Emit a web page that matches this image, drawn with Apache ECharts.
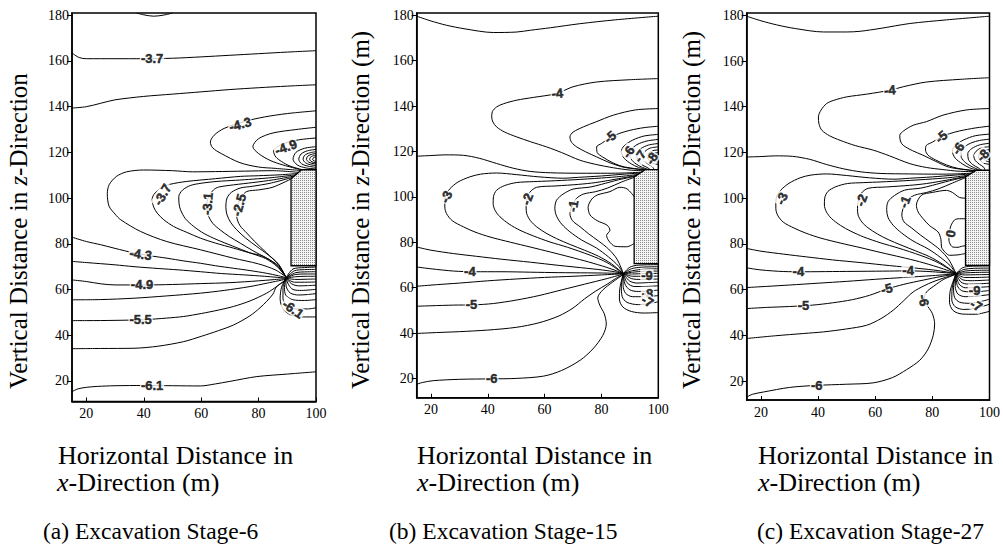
<!DOCTYPE html>
<html><head><meta charset="utf-8">
<script src="https://cdn.jsdelivr.net/npm/echarts@6/dist/echarts.min.js"></script>
<style>html,body{margin:0;padding:0;background:#fff}#c{width:1003px;height:556px}</style>
</head><body><div id="c"></div>
<script>
const xTicks=[20,40,60,80,100];
const yTicks=[20,40,60,80,100,120,140,160,180];

// ---------- Panel (a): Excavation Stage-6 ----------
const aBox=[[91.3,70.4],[91.3,108.5],[95,112.4],[100,112.4],[100,70.4]];
const aLines=[
 [[37.5,181],[40,180.2],[43.5,179.6],[47,180.1],[50,181]],
 [[15,163.5],[17.5,161.5],[20,161],[30,161],[40,161],[50,161.2],[60,161.8],[70,162.5],[80,163.2],[90,163.9],[100,164.5]],
 [[15,139.4],[20,140],[25,141.5],[30,143],[40,144.5],[50,145.5],[60,146.5],[70,147.5],[80,148.3],[90,149],[100,149.6]],
 [[100,138.2],[90,137],[82,135.5],[75,133.5],[68,130.5],[64.5,127.5],[63.2,124.5],[64,122],[67,119.5],[73.5,115.5],[80,113.6],[86,113],[95.5,112]],
 [[100,131],[93,130],[85,128.5],[80,126],[78,122.5],[80,119.5],[84,116.5],[88.5,114.5],[96,112]],
 [[100,126.3],[94,125.5],[88,123.5],[85.2,120.5],[86,118],[88,116],[91,114],[96.5,112]],
 [[100,122.5],[96,121.8],[93,120],[92,117],[93.5,114.5],[96.5,113.2],[100,112.8]],
 [[100,121.3],[97,120.7],[94.8,119.3],[94,117],[95,115],[97.5,113.9],[100,113.5]],
 [[100,120.3],[97.8,119.8],[96,118.7],[95.5,117],[96.3,115.5],[98,114.6],[100,114.3]],
 [[100,119.5],[98.3,119.1],[97,118.2],[96.7,117],[97.3,115.9],[98.6,115.2],[100,115]],
 [[100,118.7],[98.8,118.4],[98,117.8],[97.8,117],[98.2,116.2],[99,115.7],[100,115.5]],
 [[100,118],[99.3,117.8],[98.8,117],[99.3,116.3],[100,116.1]],
 [[94.5,111.2],[85,112],[75,111.8],[65,111.6],[57,111.5],[50,112],[40,112.3],[34,111.5],[30.5,109.5],[28,106],[27.3,102],[27.9,96.5],[30,93],[32,90.5],[38.9,85.4],[48,81],[59.7,77.4],[71.3,73.7],[80,71.2],[86,68.5],[89.5,65.5]],
 [[94,110.8],[87.5,110.2],[80,109.8],[73.6,109.5],[65,108.5],[55,107.3],[49,106],[45.8,104.4],[43.5,101.5],[42.9,99.3],[43.5,96],[44.7,93.4],[47,90.5],[50.4,87.6],[55,85],[59.7,82.5],[65,80.3],[71.3,78.1],[77,76],[81.7,74.5],[86,71],[89.5,65.5]],
 [[93.5,110.3],[85,109],[78,108.3],[72,107.8],[65.5,107.3],[60,106.5],[56.2,105.5],[53.5,103.5],[52.2,100.7],[52.3,97.5],[52.8,94.9],[54.5,91],[57.4,87.6],[61,84.5],[65.5,81.8],[71,79],[77.1,76],[82.5,73.5],[86.5,70],[89.5,65.5]],
 [[93,109.8],[85.2,108],[78,106.8],[71.3,105.8],[66,104.8],[64.3,103.6],[62.8,101],[62,97.8],[62,95],[62.6,92],[64,89],[66.6,86.1],[69.8,83.2],[73.6,80.3],[78,77],[82.8,73.7],[86.8,70.5],[89.5,65.5]],
 [[92.5,109.3],[84,106.5],[78,105.2],[73.6,104.4],[70.5,102.5],[69,100],[68.6,96],[69,92.7],[70.3,89.3],[72.4,86.1],[75.5,82.5],[79.4,78.8],[83.5,75],[87,71],[89.5,65.5]],
 [[92,108.8],[85,104.8],[80,103.6],[75.9,102.9],[74,100.5],[73,97.8],[72.5,95],[72.4,92],[73.5,88],[75.9,84.7],[78.5,81.2],[82.8,76],[86.5,71.5],[89.5,65.5]],
 [[15,82.9],[20,81],[25,79.6],[30,78],[36.6,76],[42,74.8],[48.1,73.7],[54,72.5],[59.7,71.5],[65,70.4],[71.3,69.3],[77,68.3],[82.8,67.1],[87,66],[89.5,65.2]],
 [[15,72.3],[20,71.8],[30,70.8],[36.6,70],[45,69.2],[52,68.6],[59.7,67.8],[67,67],[75,66.4],[82,65.8],[89.5,65]],
 [[15,64.2],[20,63.5],[25,62.5],[30,62],[40,62],[50,62.2],[60,62.6],[70,63],[80,63.8],[85,64.3],[89.5,64.8]],
 [[15,55.5],[25,55.6],[36.6,56.2],[48,57.2],[59.7,58.4],[68,59.6],[77,61.3],[83,62.8],[89.5,64.5]],
 [[15,46.4],[20,46.4],[30,46.5],[40,46.8],[48,47.5],[53.9,48.2],[60,49.5],[66,51],[71.3,52.6],[77,55],[82.8,58.4],[86.5,61.5],[89.5,64.3]],
 [[15,34.1],[25,34.2],[36.6,34.3],[45,35.2],[53.9,37.2],[60,39.5],[66,42],[71.3,44.5],[77,48.5],[80.5,52],[82.8,54.8],[85,58],[86.3,61.3],[89.5,64]],
 [[15,15.3],[17,16.5],[20,17.2],[23.8,17.6],[30,17.9],[40,18],[50,17.9],[59.7,17.8],[65,18.7],[70,19.8],[79.4,21.9],[90,23],[100,24]],
 [[89.5,65],[92,69],[96,69.6],[100,69.8]],
 [[89.5,65],[92.5,68.2],[96,68.7],[100,68.8]],
 [[89.5,65],[93,67.4],[96,67.7],[100,67.8]],
 [[89.5,65],[93,66.6],[96.5,66.8],[100,66.8]],
 [[89.5,65],[93,65.6],[96.5,65.8],[100,65.8]],
 [[89.5,65],[93,64.4],[96.5,64.5],[100,64.6]],
 [[89.5,65],[92.5,63.2],[96,63.2],[100,63.3]],
 [[89.5,65],[91.5,62.5],[94,61.6],[97,61.7],[100,61.9]],
 [[89.5,65],[90.5,62],[92,60],[95,59.6],[100,60.1]],
 [[89.5,65],[89.6,61.5],[91,58.5],[94,57.6],[97,57.8],[100,58.2]],
 [[89.5,65],[89,61],[89.5,57.5],[92,55.5],[96,55.2],[100,55.6]],
 [[89.5,65],[88.5,61],[88.5,56],[90,53],[93,51.5],[97,51.5],[100,52]],
 [[89.5,65],[88,61],[87.5,56],[88.5,51.5],[91,49],[95,48],[100,48]]
];
const aLabels=[
 [42.9,161,'-3.7',0],[73.6,132.3,'-4.3',15],[89.5,122.3,'-4.9',20],
 [46.5,101.5,'-3.7',60],[62.2,97.5,'-3.1',85],[73.2,97,'-2.5',75],
 [38.9,75.4,'-4.3',-8],[39.4,62,'-4.9',0],[38.9,46.7,'-5.5',0],
 [92,51.5,'-6.1',-35],[42.9,17.9,'-6.1',0]
];

// ---------- Panel (b): Excavation Stage-15 ----------
const bBox=[[91.5,70.6],[91.5,108.8],[95.4,112],[100,112],[100,70.6]];
const bLines=[
 [[15,179.6],[20,177.5],[25.5,175.6],[32,174],[42,172.4],[50,172.6],[55,173.4],[62,174.5],[72.5,176.3],[85,178],[100,179.6]],
 [[100,152.1],[90,151.6],[78.3,150.6],[70,148.5],[64.2,145.5],[56,143.8],[50.2,142.6],[45.5,141],[43.1,139.6],[41.6,137.5],[41.4,135.2],[41.8,133],[43.1,130.8],[46,128.5],[50.2,126.4],[55,124.3],[60.7,122],[66,119.5],[72.5,116.1],[78,114.3],[84.2,112.8],[90,111.8],[95,111.5]],
 [[100,138.9],[92,138.3],[84.2,136],[78,133],[73.6,130.8],[70,128.5],[68.9,126.4],[69.5,124],[71.3,122],[74.5,119.8],[78.3,117.6],[83,115],[88,113],[95.5,111.8]],
 [[100,131.1],[95,130.5],[90,129.3],[86,127.8],[83,126],[80,123.5],[78.3,122],[78.5,119.5],[80.5,117.5],[84,115],[88,113.2],[96,111.8]],
 [[100,127.5],[95,126.8],[91,125],[88,122.5],[87,120],[88,117],[90.5,114.5],[93,113],[96.5,111.8]],
 [[100,125.3],[96,124.6],[92.5,123],[90.3,120.5],[90,118],[91.2,115.5],[93.5,113.5],[97,111.8]],
 [[100,123.5],[96.5,122.8],[93.8,121.2],[92.4,119],[92.6,116.5],[94,114.3],[96,113],[97.5,111.8]],
 [[100,122],[97.2,121.5],[95.3,120],[94.5,118],[95,116],[96.5,114.3],[98,113.2],[98.5,111.8]],
 [[100,120.7],[98,120.3],[96.6,119.2],[96.2,117.5],[96.8,116],[98,114.8],[100,114.3]],
 [[100,119.5],[98.7,119.2],[97.8,118.3],[97.7,117.2],[98.2,116.3],[99.2,115.6],[100,115.4]],
 [[100,118.5],[99.3,118.3],[98.9,117.6],[99.1,116.8],[100,116.4]],
 [[15,117.9],[20,118.2],[25,118.5],[31.4,118.3],[37,117],[43.1,114.7],[49,112.6],[54.9,111.2],[62,110.6],[72.5,110.4],[82,110.4],[88,110.5],[94.5,110.9]],
 [[94,110.5],[88,110],[80,109.2],[72,108.6],[66.6,108.2],[58,108.8],[50,109.8],[43.1,110.5],[37.5,110],[33.7,108.8],[29.5,106.5],[26.7,103.6],[25.3,101],[24.9,98.5],[24.9,95.5],[25.5,92.6],[27.5,89.5],[31.4,86.8],[35.5,84.5],[40.8,82.3],[48,80],[54.9,77.9],[62,75.7],[68.9,73.5],[75.5,71.3],[81.9,68.9],[85.5,67.3],[87.7,66.2]],
 [[93.5,110],[87,109],[80,108.3],[70,107.5],[62,107],[56,106.7],[50.2,106.3],[46,105],[43.1,102.9],[42,100],[41.9,97],[42.6,94],[44.3,91.2],[47.5,88],[51.3,85.3],[56,82.8],[61.9,80.1],[68,77.8],[76,74.3],[82,71],[87.7,66.2]],
 [[93,109.6],[86,108],[78,106.3],[72,105.5],[64,104.8],[57.2,104.2],[54.8,102],[53.7,98.5],[53.5,95.5],[53.7,92.6],[55,89.5],[57.2,86.8],[60.5,84],[64.2,81.6],[69,79],[74,76.5],[79,73.8],[83.5,70.5],[87.7,66.2]],
 [[92.5,109.2],[86,107.5],[80,105.5],[76,104.3],[70,103.4],[66.5,101.2],[64.2,98.5],[63.6,95],[64.2,91.5],[66,88],[68.9,84.6],[73,81],[78.3,77.4],[82.5,73.5],[86,69.5],[87.7,66.2]],
 [[92,108.8],[87,106.5],[82,103.8],[78,102.3],[73.6,101.2],[71.2,99.3],[70.1,97],[69.3,94.8],[68.9,92.6],[69.8,89.5],[72.5,86.8],[75.5,83.7],[79,80.5],[82.5,77],[85.5,72.5],[87.7,66.2]],
 [[91.6,100],[89,103.5],[86.5,104.2],[83,102.3],[78.5,100.8],[76.6,99],[75.3,95.4],[76,92],[78.5,89.5],[82,87.5],[83,85.3],[81.8,83],[82.6,80.6],[84.8,78.2],[88.9,78],[91.6,79.5]],
 [[15,77.9],[20,76.5],[28,75],[36,73.8],[45,72.5],[55,71.2],[65,69.8],[75,68.5],[82,67.5],[87.7,66.3]],
 [[15,69.1],[20,68.3],[28,67.3],[35,67],[45,67],[55,66.8],[65,66.6],[75,66.5],[82,66.4],[87.7,66.2]],
 [[15,60.6],[22,61.3],[30,62],[40,63],[50,63.8],[60,64.5],[70,65],[80,65.6],[87.7,66.1]],
 [[15,51.8],[20,52],[28,52.3],[35,52.4],[42,53],[50,54.5],[58,56.5],[66,59],[74,61.5],[82,64],[87.7,66]],
 [[15,39.8],[22,40.2],[30,40.6],[40,41.3],[50,42.5],[58,44.5],[65,47.5],[70,51],[74,55],[78,58.5],[82,61.5],[85,64],[87.7,65.9]],
 [[15,17.4],[17,18.2],[20.8,19],[30,19.6],[41.4,19.8],[50,20],[59.6,21],[66,23.5],[72.5,28],[77,33],[80.5,39],[81.7,44],[81,48.5],[79.5,52],[78.7,55.5],[80.5,59],[84,62.5],[87.7,65.8]],
 [[87.7,66.2],[90,69],[93,69.9],[100,70.1]],
 [[87.7,66.2],[90.5,68.3],[94,69],[100,69.2]],
 [[87.7,66.2],[91,67.5],[95,68.1],[100,68.3]],
 [[87.7,66.2],[91,66.8],[95,67.2],[100,67.3]],
 [[87.7,66.2],[91,66],[95,66.2],[100,66.3]],
 [[87.7,66.2],[91,65],[95,65],[100,65.1]],
 [[87.7,66.2],[90.5,64],[94,63.6],[100,63.8]],
 [[87.7,66.2],[89.8,63],[92.5,62],[96,62.2],[100,62.4]],
 [[87.7,66.2],[89,62.2],[91.5,60.5],[95,60.5],[100,60.8]],
 [[87.7,66.2],[88.3,61.5],[90,59],[93,58.3],[97,58.6],[100,58.9]],
 [[87.7,66.2],[87.6,61],[88.5,57.5],[91,56],[95,56],[100,56.5]],
 [[87.7,66.2],[87,60.5],[87.3,56],[89,53.5],[93,52.5],[97,53],[100,53.8]],
 [[87.7,66.2],[86.5,60],[86.3,55],[87.5,51.5],[90.5,49.5],[95,48.8],[100,49]]
];
const bLabels=[
 [64.5,145.6,'-4',5],[83,126.3,'-5',40],[89.5,119.8,'-6',55],[93.6,117.9,'-7',55],[97.7,116.9,'-8',55],
 [25.4,100,'-3',65],[53.9,99,'-2',70],[70,96,'-1',80],
 [33.7,67,'-4',0],[34.3,52.5,'-5',0],[41.4,19.8,'-6',0],
 [96,65.3,'-9',0],[96.2,57.6,'-8',0],[96.2,54,'-7',-30]
];

// ---------- Panel (c): Excavation Stage-27 ----------
const cBox=[[91.6,70.6],[91.6,109.3],[95.4,112.2],[100,112.2],[100,70.6]];
const cLines=[
 [[15,179.6],[20,177.6],[25.5,175.8],[32,174.2],[41.9,172.7],[50,172.7],[54.7,173],[62,174.3],[72.1,176.4],[85,178],[100,179.6]],
 [[100,152.7],[90,152],[77.9,150.8],[70,148.8],[65.1,147.2],[57,145.5],[50,144.3],[45.5,142.8],[43,141.4],[41,138.5],[40.1,135.5],[40.3,132.5],[41.3,129.7],[44,127.3],[47.7,125.3],[53,123],[59.3,121],[65,118.5],[72.1,115.1],[78,113.4],[83.7,112.5],[89,111.8],[95,111.6]],
 [[100,139.2],[92,138.6],[83.7,136.3],[78,133.5],[73.3,131.9],[70,129.5],[68.6,127.5],[68.8,125],[69.8,123.1],[73,120.8],[76.7,118.8],[81,116.2],[86,113.5],[95.5,111.9]],
 [[100,131.5],[95,130.7],[89.5,129.4],[86,128.2],[83.1,126.8],[80,124.5],[77.9,123.1],[77.6,121],[78.5,118.8],[81,116.8],[85,114.5],[89,113],[96,111.9]],
 [[100,128],[95,127.3],[91,125.5],[88,123],[87,120.5],[88,117.5],[90.5,115],[93,113.3],[96.5,112]],
 [[100,125.8],[96,125.1],[92.5,123.5],[90.3,121],[90,118.5],[91.2,116],[93.5,114],[97,112]],
 [[100,124],[96.5,123.3],[93.8,121.7],[92.4,119.5],[92.6,117],[94,114.8],[96,113.3],[97.5,112]],
 [[100,122.5],[97.2,122],[95.3,120.5],[94.5,118.5],[95,116.5],[96.5,114.8],[98,113.5],[98.5,112]],
 [[100,121.2],[98,120.8],[96.6,119.7],[96.2,118],[96.8,116.5],[98,115.3],[100,114.8]],
 [[100,120],[98.7,119.7],[97.8,118.8],[97.7,117.7],[98.2,116.8],[99.2,116.1],[100,115.9]],
 [[100,119],[99.3,118.8],[98.9,118.1],[99.1,117.3],[100,116.9]],
 [[15,118],[20,118.2],[25,118.5],[31,118.3],[37,117],[43,114.7],[49,112.8],[55,111.5],[62,110.8],[72,110.6],[82,110.5],[88,110.6],[94.5,111]],
 [[94,110.6],[88,110.1],[80,109.3],[72,108.7],[66.6,108.3],[58,108.9],[50,109.9],[43,110.6],[37.5,110.1],[33.7,108.9],[29.8,106.5],[27,103.6],[25.6,101],[25.2,98.5],[25.2,95.5],[25.8,92.6],[27.8,89.5],[31.6,86.9],[35.7,84.7],[41,82.5],[48,80.3],[55,78.3],[62,76.2],[69,74.2],[75.5,72.2],[82,69.8],[85.8,68.2],[88.3,67]],
 [[93.5,110.2],[87,109.1],[80,108.4],[70,107.6],[62,107.1],[56,106.8],[50.3,106.4],[46.2,105],[43.4,102.9],[42.3,100],[42.2,97],[42.9,94],[44.6,91.2],[47.8,88.1],[51.5,85.5],[56,83],[62,80.4],[68,78.2],[76,74.9],[82,71.8],[88.3,67]],
 [[93,109.8],[86,108.1],[78,106.4],[72,105.6],[64,104.9],[57.5,104.3],[55,102],[54,98.5],[53.8,95.5],[54,92.6],[55.3,89.6],[57.5,87],[60.8,84.3],[64.5,81.9],[69,79.5],[74,77],[79,74.4],[83.5,71.2],[88.3,67]],
 [[92.5,109.5],[86,107.6],[80,105.6],[76,104.4],[70.3,103.5],[66.8,101.2],[64.5,98.5],[64,95],[64.5,91.5],[66.3,88.1],[69.2,84.8],[73.2,81.3],[78.5,77.8],[82.7,74.2],[86.2,70.5],[88.3,67]],
 [[92,109.2],[87,106.6],[82,104],[78,102.5],[73.8,101.3],[71.4,99.4],[70.3,97.2],[69.6,94.9],[69.3,92.6],[70.1,89.6],[72.8,86.9],[75.8,83.9],[79.2,80.8],[82.7,77.4],[85.8,73],[88.3,67]],
 [[91.6,100],[89.5,100.3],[87,102.5],[84.9,103.4],[80,102.5],[76.2,101.3],[74.4,96.9],[75,94],[76.7,91.1],[79,88],[82,85.2],[83,82],[83.2,78.6],[84.5,76.3],[86,75],[89,75.2],[91.6,75.8]],
 [[91.6,91],[89.5,91],[87.8,90.5],[86.5,88],[86.1,85.9],[85.8,83],[85.8,81.6],[86.4,79.5],[87.2,78.6],[89,78.5],[90.1,78.9],[91.6,79.2]],
 [[15,78],[20,76.8],[28,75.5],[36,74.3],[45,73],[55,71.8],[65,70.5],[75,69.3],[82,68.3],[88.3,67]],
 [[15,69.5],[20,68.6],[28,67.9],[35,67.8],[45,67.9],[55,68],[65,68.1],[72,68.2],[80,67.8],[88.3,67]],
 [[15,60.9],[22,61.4],[30,62],[40,62.8],[50,63.6],[60,64.5],[70,65.3],[80,66.1],[88.3,66.9]],
 [[15,51.7],[22,52.2],[30,52.6],[38,53.2],[45,54.2],[52,55.6],[58,57.5],[64,60.2],[70,62.3],[77,64.2],[83,65.7],[88.3,66.8]],
 [[15,38.6],[25,39.8],[35,40.8],[41.9,41.5],[50,42.8],[57,44.4],[62,47.3],[66.3,51],[70,55.2],[73.3,59],[77,61.6],[80.2,63.4],[84.5,65.3],[88.3,66.7]],
 [[15,13],[17,14.2],[20.9,15.2],[30,17.2],[39.5,18.1],[50,18.6],[59.3,19.2],[66,21.5],[71,25],[75.6,29.1],[78.5,34],[80.3,40],[80.8,45],[80,49.5],[78.5,52.5],[77,55.5],[78,59],[80.5,61.5],[84,64.5],[88.3,66.7]],
 [[88.3,67],[90.5,69.5],[93.5,70.2],[100,70.3]],
 [[88.3,67],[91,68.8],[94.5,69.3],[100,69.4]],
 [[88.3,67],[91.5,68.1],[95,68.4],[100,68.5]],
 [[88.3,67],[91.5,67.3],[95,67.5],[100,67.6]],
 [[88.3,67],[91.5,66.4],[95,66.5],[100,66.6]],
 [[88.3,67],[91.3,65.3],[95,65.3],[100,65.5]],
 [[88.3,67],[90.8,64.2],[94,63.9],[100,64.2]],
 [[88.3,67],[90,63.3],[92.5,62.4],[96,62.5],[100,62.8]],
 [[88.3,67],[89.3,62.5],[91.5,60.8],[95,60.9],[100,61.3]],
 [[88.3,67],[88.7,61.8],[90.3,59.5],[93.5,59],[97,59.2],[100,59.6]],
 [[88.3,67],[88,61.3],[89,58],[91.5,56.9],[95,57.1],[100,57.8]],
 [[88.3,67],[87.4,60.8],[87.8,56.5],[89.5,54.5],[93,54],[97,54.8],[100,55.8]],
 [[88.3,67],[86.9,60.3],[86.8,55.5],[88,52.5],[91,51.3],[95,51.8],[100,53.6]],
 [[88.3,67],[86.3,59.8],[86,54.5],[87.3,50.8],[90.5,49.3],[95,49.2],[100,50.5]]
];
const cLabels=[
 [65.1,147.2,'-4',5],[83.1,126.8,'-5',40],[89,121.7,'-6',55],[97.7,118.8,'-8',45],
 [27.3,99.8,'-3',65],[55.2,99.1,'-2',70],[70.3,98.4,'-1',70],[86.4,84.5,'0',80],
 [33.1,67.8,'-4',0],[71.5,68.2,'-4',0],[34.9,53,'-5',0],[64,60.4,'-5',15],
 [77,55.3,'-6',-80],[94.8,59.7,'-9',0],[95.4,53.1,'-7',-30],[39.5,18.1,'-6',0]
];

// ---------- Texts ----------
const yTitles=['Vertical Distance in {i|z}-Direction','Vertical Distance in {i|z}-Direction (m)','Vertical Distance in {i|z}-Direction (m)'];
const xTitle1='Horizontal Distance in';
const xTitle2='{i|x}-Direction (m)';
const captions=['(a) Excavation Stage-6','(b) Excavation Stage-15','(c) Excavation Stage-27'];

// ---------- Build ----------
const pc=document.createElement('canvas');pc.width=2;pc.height=2;
const g=pc.getContext('2d');g.fillStyle='#f4f4f4';g.fillRect(0,0,2,2);g.fillStyle='#8c8c8c';g.fillRect(0,0,1,1);
const pattern={image:pc,repeat:'repeat'};

const grids=[
 {left:72,top:13,width:244,height:388.5},
 {left:416.7,top:13,width:241.6,height:384.7},
 {left:746.7,top:13,width:243.3,height:387}
];
const yMins=[11,11.5,11.7];
const serif='Liberation Serif';
const sans='Liberation Sans';

function panelSeries(idx,lines,labels,box){
 const s=[];
 lines.forEach(l=>s.push({type:'line',xAxisIndex:idx,yAxisIndex:idx,data:l,showSymbol:false,symbol:'none',smooth:0.3,
   lineStyle:{color:'#000',width:1},silent:true,z:2,animation:false}));
 s.push({type:'custom',xAxisIndex:idx,yAxisIndex:idx,data:box,z:5,silent:true,animation:false,
   renderItem:(p,api)=>{ if(p.dataIndex!==0) return null;
     const pts=box.map(d=>api.coord(d));
     return {type:'polygon',shape:{points:pts},style:{fill:pattern,stroke:'#000',lineWidth:1.3}}; }});
 s.push({type:'scatter',xAxisIndex:idx,yAxisIndex:idx,symbolSize:1,itemStyle:{color:'rgba(0,0,0,0)'},z:6,silent:true,animation:false,
   data:labels.map(l=>({value:[l[0],l[1],l[2]],label:{rotate:l[3]}})),
   label:{show:true,position:'inside',formatter:p=>p.value[2],fontFamily:sans,fontWeight:'bold',
     fontSize:13,color:'#000',textBorderColor:'#000',textBorderWidth:0.5,backgroundColor:'#fff',padding:[0,1]}});
 return s;
}

const xAxes=grids.map((gr,i)=>({type:'value',gridIndex:i,min:15,max:100,
  axisLine:{show:true,onZero:false,lineStyle:{color:'#000',width:1.5}},
  axisTick:{show:true,inside:true,length:4,customValues:xTicks,lineStyle:{color:'#000'}},
  axisLabel:{customValues:xTicks,color:'#000',fontFamily:serif,fontSize:14,margin:5},
  splitLine:{show:false}}));
const yAxes=grids.map((gr,i)=>({type:'value',gridIndex:i,min:yMins[i],max:181,
  axisLine:{show:true,onZero:false,lineStyle:{color:'#000',width:1.5}},
  axisTick:{show:true,inside:false,length:5,customValues:yTicks,lineStyle:{color:'#000'}},
  axisLabel:{customValues:yTicks,color:'#000',fontFamily:serif,fontSize:14,margin:3},
  splitLine:{show:false}}));

const rich26={i:{fontFamily:serif,fontStyle:'italic',fontSize:26,fill:'#000'}};
const rich25={i:{fontFamily:serif,fontStyle:'italic',fontSize:25,fill:'#000'}};
const graphics=[];
const yTitleX=[18,360,691];
yTitles.forEach((t,i)=>graphics.push({type:'text',x:yTitleX[i],y:389,rotation:Math.PI/2,silent:true,
  style:{text:t,rich:rich25,fontFamily:serif,fontSize:25,fill:'#000',align:'left',verticalAlign:'middle'}}));
const line1X=[58,417,758], line2X=[57,417,758], capX=[43,389,757];
[0,1,2].forEach(i=>{
 graphics.push({type:'text',x:line1X[i],y:455,silent:true,style:{text:xTitle1,fontFamily:serif,fontSize:26,fill:'#000',align:'left',verticalAlign:'middle'}});
 graphics.push({type:'text',x:line2X[i],y:482,silent:true,style:{text:xTitle2,rich:rich26,fontFamily:serif,fontSize:26,fill:'#000',align:'left',verticalAlign:'middle'}});
 graphics.push({type:'text',x:capX[i],y:531,silent:true,style:{text:captions[i],fontFamily:serif,fontSize:23.5,fill:'#000',align:'left',verticalAlign:'middle'}});
});

const chart=echarts.init(document.getElementById('c'),null,{renderer:'svg'});
chart.setOption({
 animation:false,
 backgroundColor:'#fff',
 grid:grids.map(gr=>Object.assign({show:true,borderColor:'#000',borderWidth:1.5,backgroundColor:'transparent'},gr)),
 xAxis:xAxes, yAxis:yAxes,
 series:[].concat(panelSeries(0,aLines,aLabels,aBox),panelSeries(1,bLines,bLabels,bBox),panelSeries(2,cLines,cLabels,cBox)),
 graphic:graphics
});
</script></body></html>
